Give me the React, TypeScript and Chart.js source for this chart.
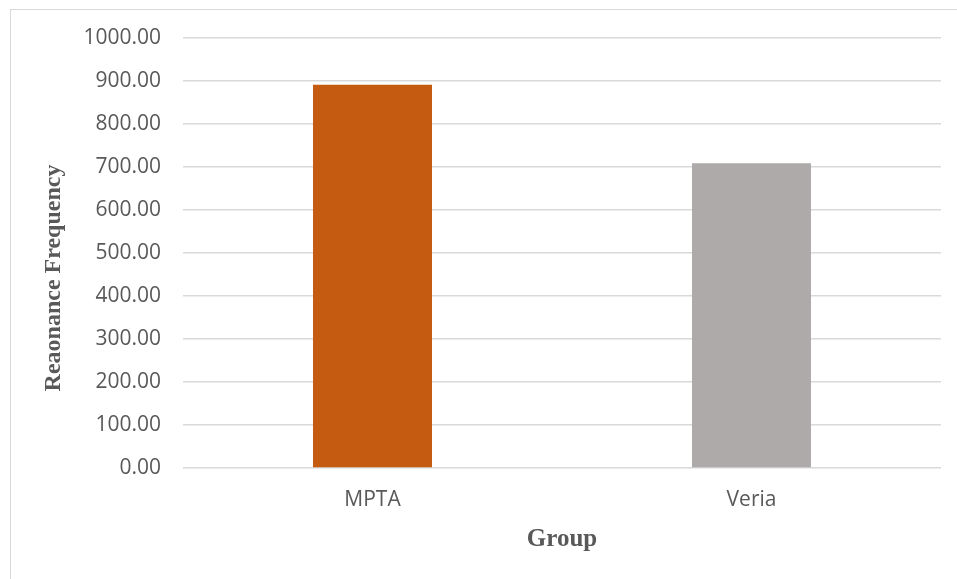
import React, { useEffect, useRef } from "react";
import { Chart, registerables } from "chart.js";

Chart.register(...registerables);

const groups = ["MPTA", "Veria"];
const frequency = [891, 709];
const barColors = ["#C55A11", "#AEAAAA"];
const yTitle = "Reaonance Frequency";
const xTitle = "Group";

const W = 957;
const H = 579;

// Rotated y-axis title, placed beside the tick labels
const yTitlePlugin = {
  id: "yTitle",
  afterDraw(chart: any) {
    const ctx = chart.ctx;
    ctx.save();
    ctx.translate(54, 278);
    ctx.rotate(-Math.PI / 2);
    ctx.font = "bold 24px 'Liberation Serif', 'Times New Roman', serif";
    ctx.fillStyle = "#595959";
    ctx.textAlign = "center";
    ctx.textBaseline = "middle";
    ctx.fillText(yTitle, 0, 0);
    ctx.restore();
  },
};

export default function App() {
  const ref = useRef<HTMLCanvasElement | null>(null);

  useEffect(() => {
    if (!ref.current) return;
    const chart = new Chart(ref.current, {
      type: "bar",
      data: {
        labels: groups,
        datasets: [
          {
            data: frequency,
            backgroundColor: barColors,
            borderWidth: 0,
            categoryPercentage: 1,
            barPercentage: 0.314,
          },
        ],
      },
      options: {
        responsive: false,
        animation: false,
        devicePixelRatio: 1,
        layout: { padding: { left: 0, top: 38, right: 16, bottom: 0 } },
        plugins: {
          legend: { display: false },
          tooltip: { enabled: false },
        },
        scales: {
          x: {
            grid: { display: false, drawTicks: false },
            border: { display: false },
            ticks: {
              color: "#595959",
              padding: 19,
              font: { family: "'Open Sans', sans-serif", size: 21 },
            },
            title: {
              display: true,
              text: xTitle,
              color: "#595959",
              padding: { top: 0, bottom: 24 },
              font: { family: "'Liberation Serif', 'Times New Roman', serif", size: 25, weight: "bold" },
            },
            afterFit(scale: any) {
              scale.height = H - 468;
            },
          },
          y: {
            min: 0,
            max: 1000,
            grid: { color: "#D9D9D9", lineWidth: 1.5, drawTicks: false },
            border: { display: false },
            ticks: {
              stepSize: 100,
              color: "#595959",
              padding: 22,
              font: { family: "'Open Sans', sans-serif", size: 21 },
              callback: (v: any) => Number(v).toFixed(2),
            },
            afterFit(scale: any) {
              scale.width = 183;
            },
          },
        },
      },
      plugins: [yTitlePlugin],
    });
    return () => chart.destroy();
  }, []);

  return (
    <div
      style={{
        position: "absolute",
        left: 0,
        top: 0,
        width: W,
        height: H,
        background: "#FFFFFF",
        overflow: "hidden",
      }}
    >
      <div
        style={{
          position: "absolute",
          left: 10,
          top: 9,
          width: W,
          height: H,
          borderTop: "1px solid #D9D9D9",
          borderLeft: "1px solid #D9D9D9",
        }}
      />
      <canvas
        ref={ref}
        width={W}
        height={H}
        style={{ position: "absolute", left: 0, top: 0, width: W, height: H }}
      />
    </div>
  );
}
